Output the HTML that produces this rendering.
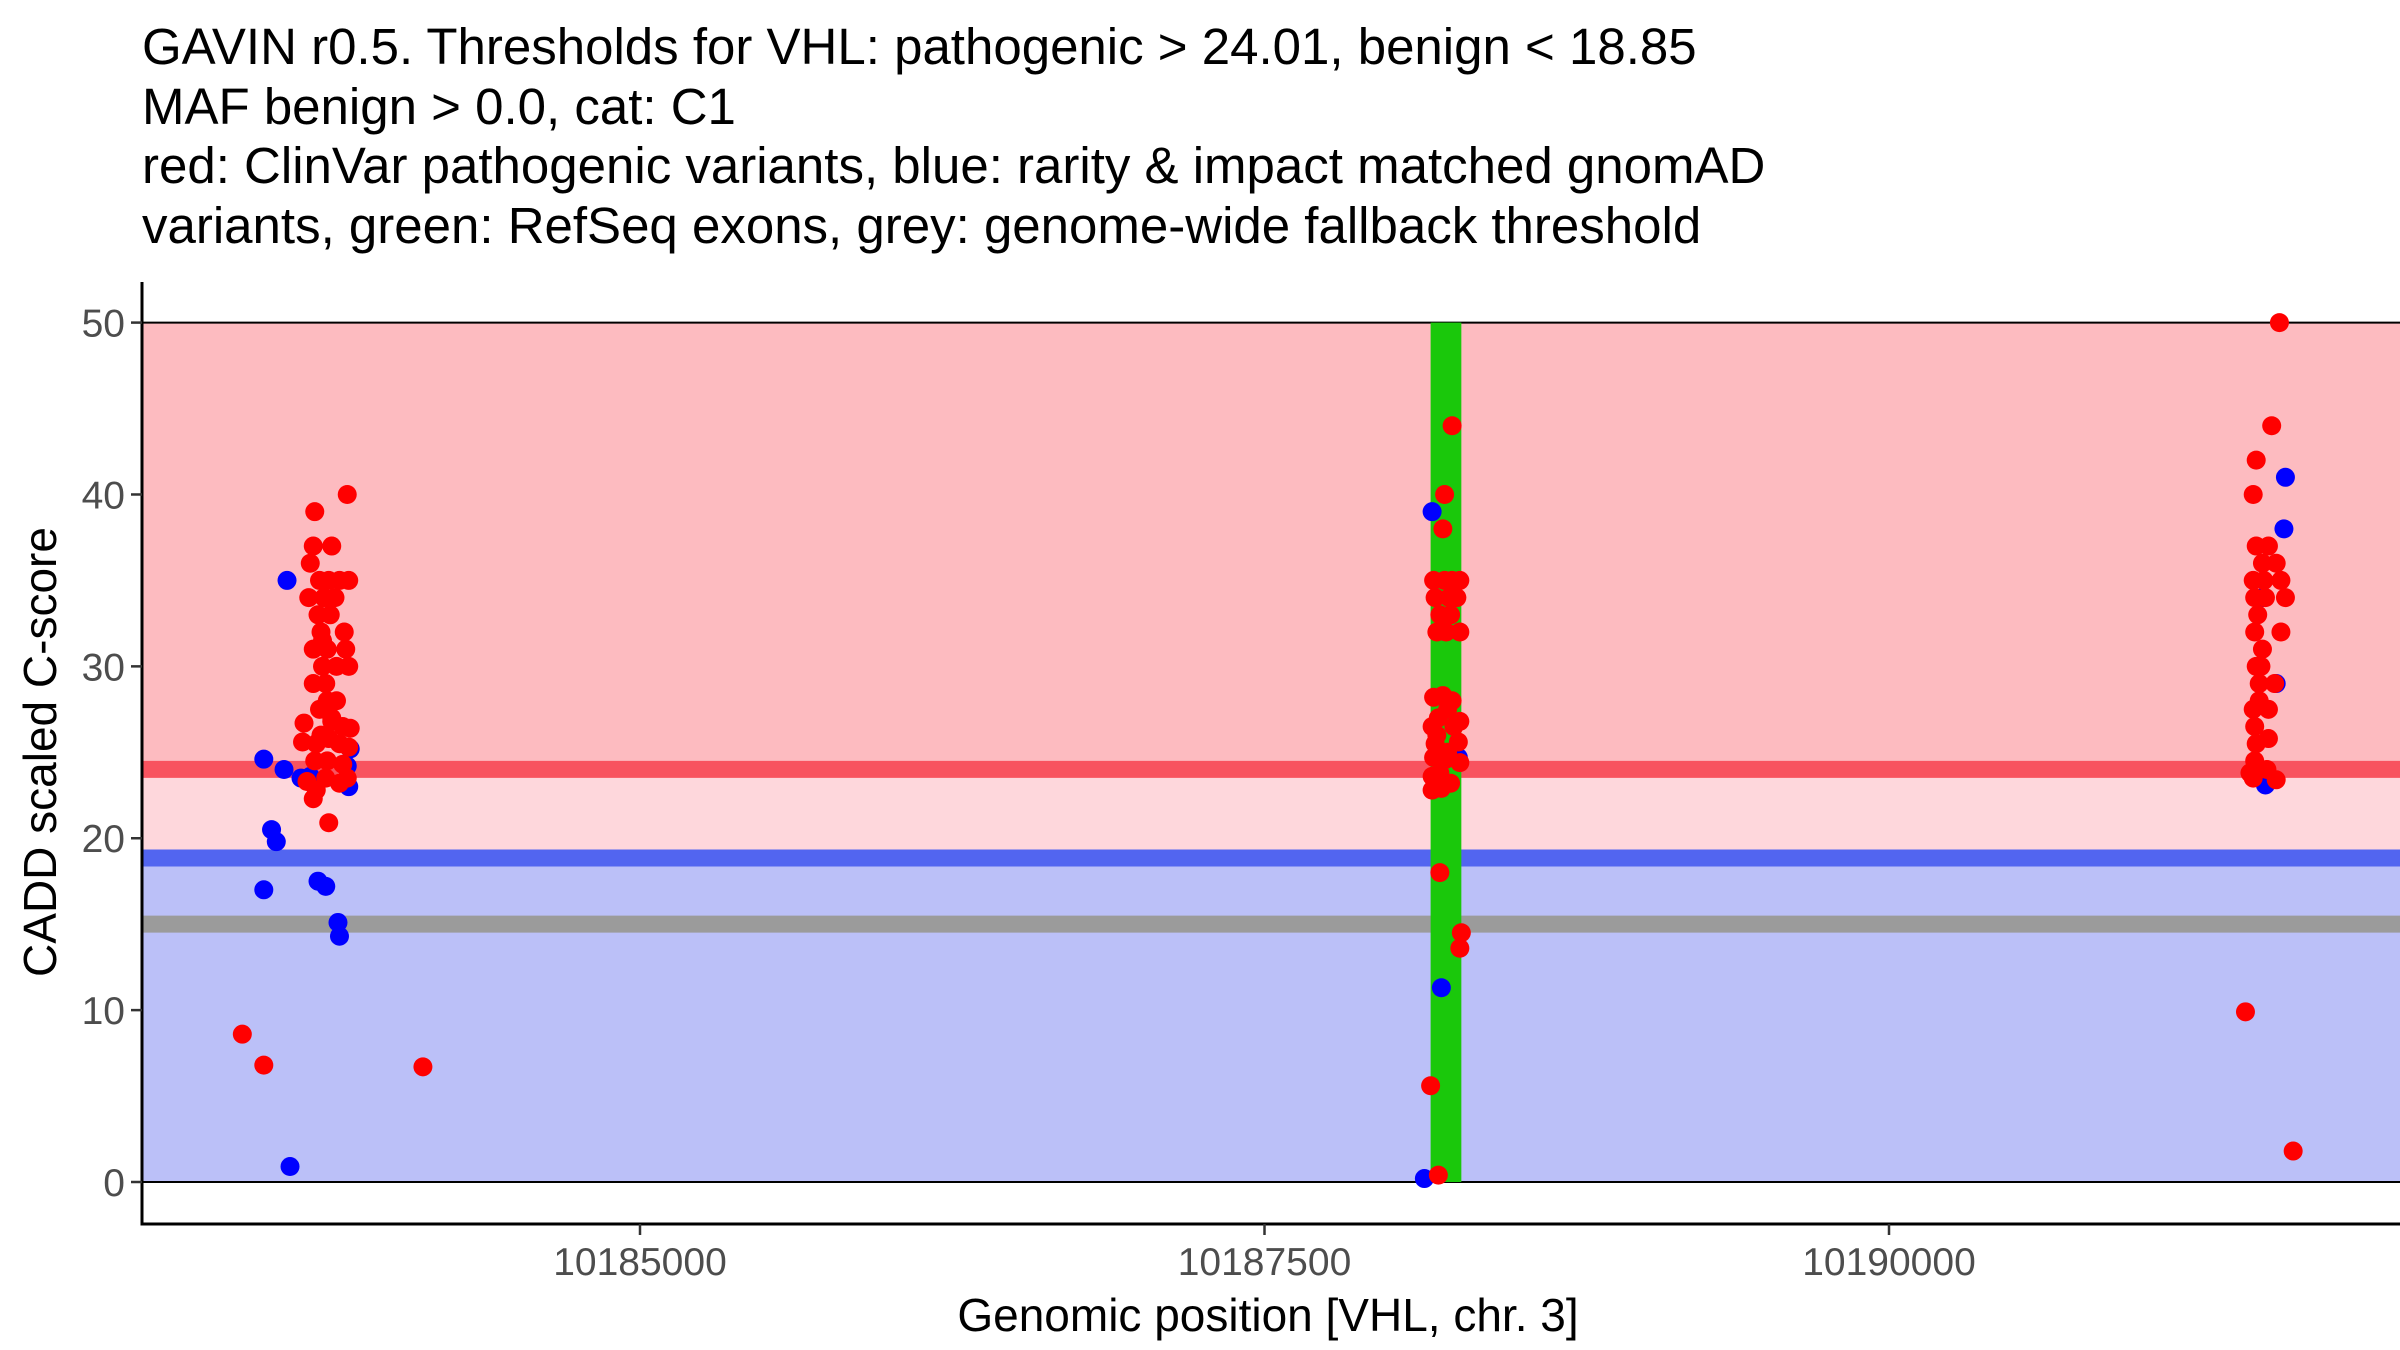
<!DOCTYPE html>
<html><head><meta charset="utf-8"><style>
html,body{margin:0;padding:0;background:#fff;}
svg{display:block;font-family:"Liberation Sans",Arial,sans-serif;}
</style></head><body>
<svg id="chart" width="2400" height="1350" viewBox="0 0 2400 1350" xmlns="http://www.w3.org/2000/svg">
<g font-size="51" fill="#000">
<text x="142" y="64">GAVIN r0.5. Thresholds for VHL: pathogenic &gt; 24.01, benign &lt; 18.85</text>
<text x="142" y="124">MAF benign &gt; 0.0, cat: C1</text>
<text x="142" y="183">red: ClinVar pathogenic variants, blue: rarity &amp; impact matched gnomAD</text>
<text x="142" y="243">variants, green: RefSeq exons, grey: genome-wide fallback threshold</text>
</g>
<g id="plot"></g>
<text x="1268" y="1331" font-size="46" text-anchor="middle">Genomic position [VHL, chr. 3]</text>
<text transform="translate(56,752) rotate(-90)" font-size="46" text-anchor="middle">CADD scaled C-score</text>
</svg>
<script>
const xTicks=[10185000,10187500,10190000];
const yTicks=[0,10,20,30,40,50];
const pathogenicThreshold=24.01;
const benignThreshold=18.85;
const fallbackThreshold=15;
const exonStart=10188165, exonEnd=10188288;
const bluePos=[10183494,10183575,10183587,10183643,10183680,10183525,10183544,10183494,10183711,10183742,10183791,10183797,10183599,10183840,10183834,10183828,10188171,10188208,10188140,10188276,10191587,10191581,10191550,10191507,10191495];
const blueScore=[24.6,24,35,23.5,23.6,20.5,19.8,17,17.5,17.2,15.1,14.3,0.9,25.2,23,24.2,39,11.3,0.2,24.7,41,38,29,23.1,34];
const redPos=[10183408,10183494,10184131,10183698,10183828,10183692,10183766,10183680,10183674,10183717,10183754,10183797,10183834,10183735,10183779,10183711,10183760,10183723,10183816,10183692,10183748,10183822,10183729,10183785,10183834,10183692,10183742,10183748,10183785,10183717,10183655,10183766,10183810,10183840,10183649,10183704,10183754,10183797,10183834,10183698,10183748,10183810,10183667,10183704,10183692,10183742,10183797,10183828,10183754,10183723,10183766,10183729,
10188251,10188221,10188214,10188177,10188221,10188251,10188282,10188183,10188239,10188270,10188202,10188245,10188190,10188227,10188282,10188177,10188214,10188251,10188196,10188258,10188171,10188233,10188282,10188183,10188276,10188177,10188227,10188282,10188171,10188202,10188245,10188171,10188208,10188202,10188288,10188282,10188165,10188196,10188233,10188190,
10191563,10191532,10191470,10191458,10191470,10191519,10191495,10191550,10191458,10191501,10191569,10191464,10191507,10191587,10191476,10191464,10191569,10191470,10191489,10191495,10191544,10191482,10191519,10191458,10191464,10191470,10191519,10191464,10191513,10191458,10191550,10191445,10191427,10191618,10191482];
const redScore=[8.6,6.8,6.7,39,40,37,37,36,34,35,35,35,35,34,34,33,33,32,32,31,31,31,30,30,30,29,29,28,28,27.5,26.7,26.8,26.5,26.4,25.6,25.5,25.8,25.5,25.3,24.5,24.5,24.3,23.3,22.8,22.3,23.5,23.2,23.5,20.9,26,27,31.5,
44,40,38,35,35,35,35,34,34,34,33,33,32,32,32,28.2,28.3,28,27,26.5,26.5,27.5,26.8,25.5,25.6,24.7,24.6,24.4,23.6,23.8,23.2,22.8,22.9,18,14.5,13.6,5.6,0.4,25,26,
50,44,42,40,37,37,36,36,35,35,35,34,34,34,33,32,32,30,30,31,29,29,27.5,27.5,26.5,25.5,25.8,24.5,24,23.5,23.4,23.8,9.9,1.8,28];

const NS='http://www.w3.org/2000/svg';
const plot=document.getElementById('plot');
const xL=142,xR=2400,yAx=1224;
function X(p){return 640+(p-10185000)*624.5/2500;}
function Y(v){return 1182-v*(1182-322.6)/50;}
function mk(tag,attrs,parent){const e=document.createElementNS(NS,tag);for(const k in attrs)e.setAttribute(k,attrs[k]);(parent||plot).appendChild(e);return e;}

let r;
r=mk('rect',{x:xL,y:Y(50),width:xR-xL,height:Y(pathogenicThreshold)-Y(50),fill:'#FDBBC0'});


r=mk('rect',{x:xL,y:Y(pathogenicThreshold),width:xR-xL,height:Y(benignThreshold)-Y(pathogenicThreshold),fill:'#FED7DC'});


r=mk('rect',{x:xL,y:Y(benignThreshold),width:xR-xL,height:Y(0)-Y(benignThreshold),fill:'#BBC0F8'});


r=mk('line',{x1:xL,x2:xR,y1:Y(50),y2:Y(50),stroke:'#000','stroke-width':2});


r=mk('line',{x1:xL,x2:xR,y1:Y(0),y2:Y(0),stroke:'#000','stroke-width':2});


r=mk('line',{x1:xL,x2:xR,y1:Y(pathogenicThreshold),y2:Y(pathogenicThreshold),stroke:'#F8535F','stroke-width':17});


r=mk('line',{x1:xL,x2:xR,y1:Y(benignThreshold),y2:Y(benignThreshold),stroke:'#5265F0','stroke-width':17});


r=mk('line',{x1:xL,x2:xR,y1:Y(fallbackThreshold),y2:Y(fallbackThreshold),stroke:'#9B9B9B','stroke-width':17});


r=mk('rect',{x:X(exonStart),y:Y(50),width:X(exonEnd)-X(exonStart),height:Y(0)-Y(50),fill:'#1AC80B'});



for(let i=0;i<bluePos.length;i++){
  const c=mk('circle',{cx:X(bluePos[i]),cy:Y(blueScore[i]),r:9.5,fill:'#0000FF'});
  
  
}
for(let i=0;i<redPos.length;i++){
  const c=mk('circle',{cx:X(redPos[i]),cy:Y(redScore[i]),r:9.5,fill:'#FF0000'});
  
  
}

r=mk('line',{x1:xL,x2:xL,y1:282,y2:yAx+1.5,stroke:'#000','stroke-width':3});


r=mk('line',{x1:xL-1.5,x2:xR,y1:yAx,y2:yAx,stroke:'#000','stroke-width':3});


yTicks.forEach(v=>{
  const t=mk('line',{x1:xL-11,x2:xL,y1:Y(v),y2:Y(v),stroke:'#333','stroke-width':2.5});
  
  
  const l=mk('text',{x:xL-17,y:Y(v)+14,'font-size':39,fill:'#4d4d4d','text-anchor':'end'});
  l.textContent=v;
  
  
});
xTicks.forEach(v=>{
  const t=mk('line',{x1:X(v),x2:X(v),y1:yAx,y2:yAx+11,stroke:'#333','stroke-width':2.5});
  
  
  const l=mk('text',{x:X(v),y:yAx+51,'font-size':39,fill:'#4d4d4d','text-anchor':'middle'});
  l.textContent=v;
  
  
});
</script>
</body></html>
